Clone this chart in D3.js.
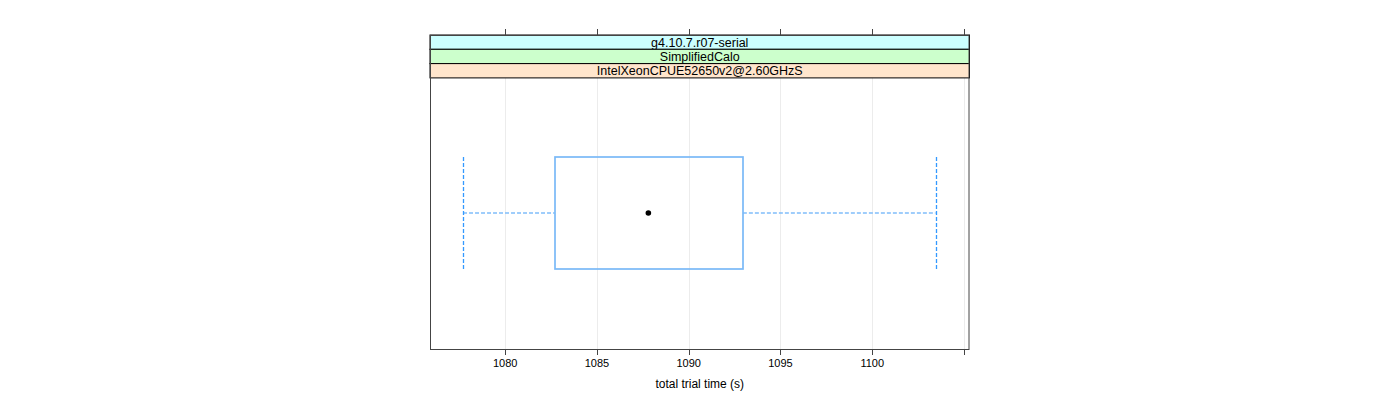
<!DOCTYPE html>
<html>
<head>
<meta charset="utf-8">
<script src="https://d3js.org/d3.v7.min.js"></script>
<style>
  body { margin: 0; background: #fff; }
  svg { font-family: "Liberation Sans", Arial, sans-serif; }
</style>
</head>
<body>
<div id="chart"></div>
<script>
// strip labels, top to bottom
var stripLabels = ["g4.10.7.r07-serial", "SimplifiedCalo", "IntelXeonCPUE52650v2@2.60GHzS"];
var stripColors = ["#ccffff", "#ccffcc", "#ffe5cc"];

// box stats for total trial time (s)
var whiskerLow = 1077.7;
var boxLow = 1082.7;
var median = 1087.8;
var boxHigh = 1092.95;
var whiskerHigh = 1103.45;

var tickValues = [1080, 1085, 1090, 1095, 1100, 1105];
var tickLabels = ["1080", "1085", "1090", "1095", "1100", ""];
var xDomain = [1075.9, 1105.3];

var width = 1400, height = 400;
var panel = { left: 430, right: 969.5, top: 35, bottom: 349 };
var stripH = 14.3;
var plotTop = panel.top + stripH * stripLabels.length;

var svg = d3.select("#chart").append("svg")
    .attr("width", width)
    .attr("height", height);

var x = d3.scaleLinear().domain(xDomain).range([panel.left, panel.right]);
var yMid = 213, boxHalf = 56;

// grid lines
svg.append("g").selectAll("line")
    .data(tickValues).enter()
    .append("line")
    .attr("x1", d => Math.round(x(d)) + 0.5)
    .attr("x2", d => Math.round(x(d)) + 0.5)
    .attr("y1", plotTop)
    .attr("y2", panel.bottom)
    .attr("stroke", "#ececec");

// strips
var strips = svg.append("g");
stripLabels.forEach(function(lab, i) {
    var y0 = panel.top + i * stripH;
    strips.append("rect")
        .attr("x", panel.left)
        .attr("y", y0)
        .attr("width", panel.right - panel.left)
        .attr("height", stripH)
        .attr("fill", stripColors[i])
        .attr("stroke", "#000")
        .attr("stroke-width", 1);
    strips.append("text")
        .attr("x", (panel.left + panel.right) / 2)
        .attr("y", y0 + stripH / 2 + 4.5)
        .attr("text-anchor", "middle")
        .attr("font-size", "12.5px")
        .attr("fill", "#000")
        .text(lab);
});

// whiskers (dashed)
var umb = svg.append("g")
    .attr("stroke", "#3399ff")
    .attr("stroke-dasharray", "4,2")
    .attr("fill", "none");
umb.append("line")
    .attr("x1", x(whiskerLow)).attr("x2", x(boxLow))
    .attr("y1", yMid).attr("y2", yMid)
    .attr("stroke", "#80bdfa")
    .attr("stroke-width", 1.6);
umb.append("line")
    .attr("x1", x(boxHigh)).attr("x2", x(whiskerHigh))
    .attr("y1", yMid).attr("y2", yMid)
    .attr("stroke", "#80bdfa")
    .attr("stroke-width", 1.6);
[whiskerLow, whiskerHigh].forEach(function(v) {
    umb.append("line")
        .attr("x1", Math.round(x(v)) + 0.5).attr("x2", Math.round(x(v)) + 0.5)
        .attr("y1", yMid - boxHalf).attr("y2", yMid + boxHalf)
        .attr("stroke-width", 1.3);
});

// box
svg.append("rect")
    .attr("x", Math.round(x(boxLow)))
    .attr("y", yMid - boxHalf)
    .attr("width", Math.round(x(boxHigh)) - Math.round(x(boxLow)))
    .attr("height", boxHalf * 2)
    .attr("fill", "none")
    .attr("stroke", "#7ab9f7")
    .attr("stroke-width", 1.7);

// median dot
svg.append("circle")
    .attr("cx", x(median))
    .attr("cy", yMid)
    .attr("r", 2.8)
    .attr("fill", "#000");

// panel border
svg.append("rect")
    .attr("x", panel.left + 0.5)
    .attr("y", panel.top + 0.5)
    .attr("width", panel.right - panel.left - 1)
    .attr("height", panel.bottom - panel.top)
    .attr("fill", "none")
    .attr("stroke", "#444");

// ticks top and bottom
var ticks = svg.append("g").attr("stroke", "#444");
tickValues.forEach(function(v) {
    var tx = Math.round(x(v)) + 0.5;
    ticks.append("line").attr("x1", tx).attr("x2", tx)
        .attr("y1", panel.top - 6).attr("y2", panel.top);
    ticks.append("line").attr("x1", tx).attr("x2", tx)
        .attr("y1", panel.bottom).attr("y2", panel.bottom + 6);
});

svg.append("g").selectAll("text")
    .data(tickValues).enter()
    .append("text")
    .attr("x", d => x(d))
    .attr("y", 367)
    .attr("text-anchor", "middle")
    .attr("font-size", "11px")
    .attr("fill", "#000")
    .text((d, i) => tickLabels[i]);

svg.append("text")
    .attr("x", (panel.left + panel.right) / 2)
    .attr("y", 388)
    .attr("text-anchor", "middle")
    .attr("font-size", "12px")
    .attr("fill", "#000")
    .text("total trial time (s)");
</script>
</body>
</html>
